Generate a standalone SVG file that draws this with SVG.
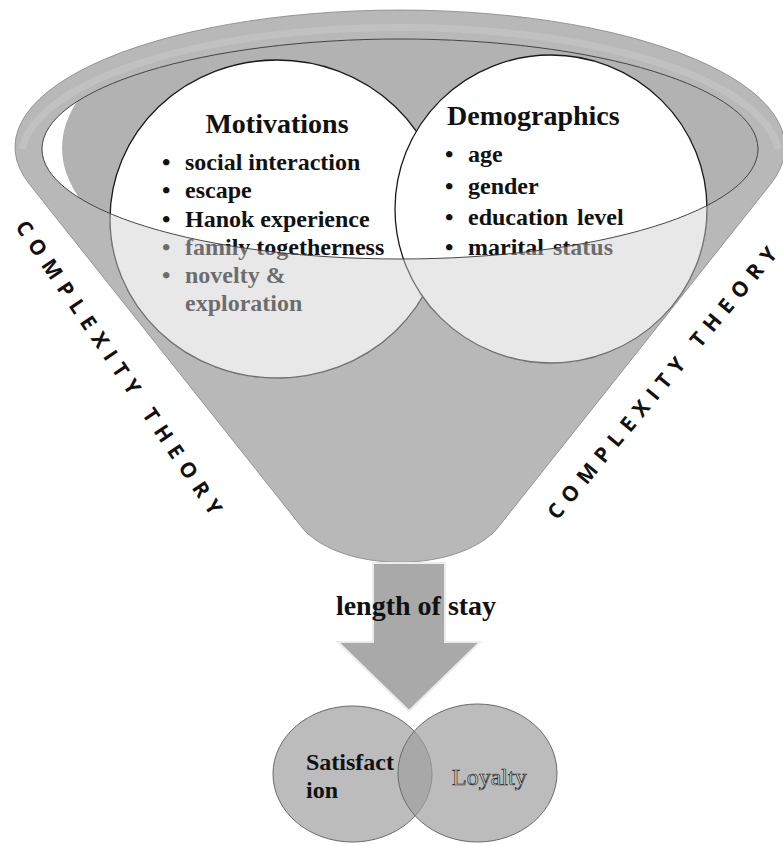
<svg xmlns="http://www.w3.org/2000/svg" width="783" height="844" viewBox="0 0 783 844">
  <style>
    .ser { font-family: "Liberation Serif", "Times New Roman", serif; font-weight: bold; fill: #111; }
    .title { font-size: 28px; }
    .item { font-size: 24px; }
    .ct { font-family: "Open Sans", "DejaVu Sans", sans-serif; font-size: 21px; font-weight: 700; fill: #111; }
    .circ { fill: #ffffff; stroke: #1a1a1a; stroke-width: 1.3; }
    .small { fill: #a0a0a0; fill-opacity: 0.7; stroke: #6a6a6a; stroke-width: 1; }
  </style>
  <defs>
    <clipPath id="openClip">
      <ellipse cx="400" cy="149" rx="358" ry="110"/>
    </clipPath>
    <mask id="belowOpening" maskUnits="userSpaceOnUse" x="0" y="0" width="783" height="844">
      <rect x="0" y="0" width="783" height="844" fill="#fff"/>
      <ellipse cx="400" cy="149" rx="358" ry="110" fill="#000"/>
    </mask>
  </defs>
  <rect width="783" height="844" fill="#ffffff"/>

  <!-- funnel -->
  <g id="funnel">
    <path d="M 29.5 184.3 L 304 530 C 345 573 455 573 496 530 L 770.5 184.3 A 385 137 0 1 0 29.5 184.3 Z" fill="#b8b8b8" stroke="#8c8c8c" stroke-width="0.9"/>
    <path d="M 22 149 A 379 131 0 0 1 778 149" fill="none" stroke="#c1c1c1" stroke-width="7"/>
    <ellipse cx="400" cy="149" rx="358" ry="110" fill="#ffffff"/>
    <ellipse cx="430" cy="148" rx="368" ry="165" fill="#b2b2b2" clip-path="url(#openClip)"/>
  </g>

  <!-- Motivations circle -->
  <g id="motivations">
    <ellipse class="circ" cx="277" cy="219" rx="167" ry="159"/>
    <text class="ser title" x="277" y="133" text-anchor="middle">Motivations</text>
    <text class="ser item" y="170"><tspan x="162">•</tspan><tspan x="185">social interaction</tspan></text>
    <text class="ser item" y="198"><tspan x="162">•</tspan><tspan x="185">escape</tspan></text>
    <text class="ser item" y="227"><tspan x="162">•</tspan><tspan x="185">Hanok experience</tspan></text>
    <text class="ser item" y="255"><tspan x="162">•</tspan><tspan x="185">family togetherness</tspan></text>
    <text class="ser item" y="283"><tspan x="162">•</tspan><tspan x="185">novelty &amp;</tspan></text>
    <text class="ser item" x="185" y="311">exploration</text>
  </g>

  <!-- Demographics circle -->
  <g id="demographics">
    <ellipse class="circ" cx="551" cy="209" rx="156" ry="154"/>
    <text class="ser title" x="447" y="125">Demographics</text>
    <text class="ser item" y="162"><tspan x="445">•</tspan><tspan x="468">age</tspan></text>
    <text class="ser item" y="194"><tspan x="445">•</tspan><tspan x="468">gender</tspan></text>
    <text class="ser item" y="225"><tspan x="445">•</tspan><tspan x="468" word-spacing="3">education level</tspan></text>
    <text class="ser item" y="255"><tspan x="445">•</tspan><tspan x="468" word-spacing="3">marital status</tspan></text>
  </g>

  <!-- translucent front of the funnel over the lower parts of the circles -->
  <g id="funnel-front" mask="url(#belowOpening)" opacity="0.48">
    <ellipse cx="277" cy="219" rx="168" ry="160" fill="#d0d0d0"/>
    <ellipse cx="551" cy="209" rx="157" ry="155" fill="#d0d0d0"/>
  </g>
  <ellipse id="funnel-opening" cx="400" cy="149" rx="358" ry="110" fill="none" stroke="#333333" stroke-width="0.9"/>

  <!-- side labels -->
  <g id="label-left">
    <text class="ct" transform="translate(119 367.5) rotate(55.9)" x="0" y="7.5" text-anchor="middle" textLength="350" lengthAdjust="spacing">COMPLEXITY THEORY</text>
  </g>
  <g id="label-right">
    <text class="ct" transform="translate(662 383) rotate(-50.3)" x="0" y="7.5" text-anchor="middle" textLength="346" lengthAdjust="spacing">COMPLEXITY THEORY</text>
  </g>

  <!-- connector -->
  <g id="connectors">
    <polygon points="373,563 445,563 445,642 480,642 409,711 338,642 373,642" fill="#a9a9a9" stroke="#ececec" stroke-width="2"/>
    <text class="ser title" x="416" y="615" text-anchor="middle" font-size="27">length of stay</text>
  </g>

  <!-- outcomes -->
  <g id="satisfaction">
    <ellipse class="small" cx="352.5" cy="774" rx="79.5" ry="68"/>
  </g>
  <g id="loyalty">
    <ellipse class="small" cx="477.5" cy="773" rx="79.5" ry="69"/>
  </g>
  <text class="ser item" x="306" y="770">Satisfact</text>
  <text class="ser item" x="306" y="798">ion</text>
  <text x="452" y="785" font-family="Liberation Serif, Times New Roman, serif" font-size="24" fill="#d4d4d4" stroke="#2a2a2a" stroke-width="0.7">Loyalty</text>
</svg>
